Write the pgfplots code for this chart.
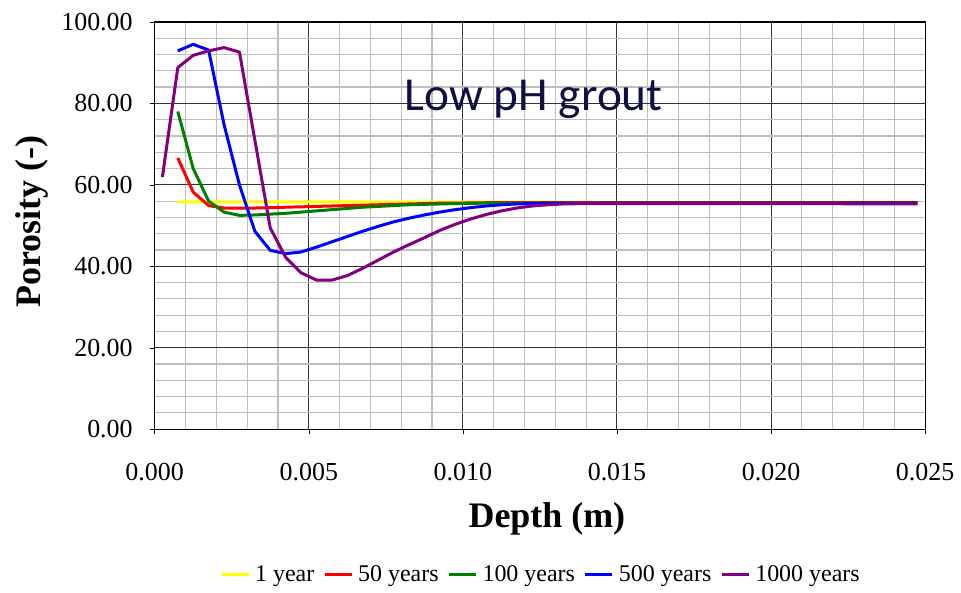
\documentclass[border=0pt]{standalone}
\usepackage{pgfplots}
\pgfplotsset{compat=1.18}
\usepackage{fontspec}
\setmainfont{Liberation Serif}
\newfontfamily\titlefont{Carlito}
\definecolor{cyel}{RGB}{255,255,0}
\definecolor{cred}{RGB}{255,0,0}
\definecolor{cgrn}{RGB}{0,128,0}
\definecolor{cblu}{RGB}{0,0,255}
\definecolor{cpur}{RGB}{128,0,128}
\definecolor{ctitle}{RGB}{16,16,70}
\begin{document}
\begin{tikzpicture}
\begin{axis}[
  scale only axis, width=386pt, height=204pt,
  xmin=0, xmax=0.025, ymin=0, ymax=100,
  xtick={0,0.005,...,0.025}, ytick={0,20,...,100},
  minor x tick num=4, minor y tick num=4,
  grid=both,
  major grid style={black!80, line width=0.5pt},
  minor grid style={black!25, line width=0.6pt},
  axis line style={black, line width=0.6pt},
  xtick pos=bottom, ytick pos=left,
  tick align=outside, major tick length=2.5pt, minor tick length=0pt,
  tick style={black},
  scaled x ticks=false, scaled y ticks=false,
  /pgf/number format/assume math mode=true,
  xticklabel={\pgfmathprintnumber[fixed,fixed zerofill,precision=3]{\tick}},
  yticklabel={\pgfmathprintnumber[fixed,fixed zerofill,precision=2]{\tick}},
  tick label style={font=\fontsize{13pt}{15pt}\selectfont},
  xticklabel style={yshift=-11pt},
  yticklabel style={xshift=-5pt},
  xlabel={\textbf{Depth (m)}}, ylabel={\textbf{Porosity (-)}},
  label style={font=\fontsize{18pt}{21pt}\selectfont},
  xlabel style={at={(axis description cs:0.5,0)}, anchor=center, yshift=-45pt, xshift=3.5pt},
  ylabel style={at={(axis description cs:0,0.5)}, anchor=center, yshift=61.5pt, xshift=2pt},
  legend columns=5,
  legend style={draw=none, fill=none, at={(0.5,-0.358)}, anchor=center,
    font=\fontsize{12pt}{14pt}\selectfont, column sep=2.5pt,
    nodes={inner xsep=0pt},
    /tikz/every even column/.append style={column sep=4.5pt}},
  legend image code/.code={\draw[#1] (0pt,0pt) -- (13.5pt,0pt);},
  every axis plot/.append style={line width=1.5pt, line join=round},
]
\coordinate (sw) at (rel axis cs:0,0);
\addplot[cyel] coordinates {(0.00075,55.8) (0.005,55.8) (0.010,55.75) (0.015,55.7) (0.020,55.7) (0.02475,55.75)};
\addlegendentry{1 year}
\addplot[cred] coordinates {(0.00075,66.6) (0.00125,58.2) (0.00175,54.9) (0.00225,54.3) (0.00275,54.3) (0.00325,54.3) (0.00375,54.4) (0.00425,54.5) (0.00475,54.6) (0.00525,54.7) (0.00575,54.8) (0.00625,54.9) (0.00675,55.0) (0.00725,55.1) (0.00775,55.2) (0.00825,55.3) (0.00875,55.4) (0.00925,55.5) (0.00975,55.5) (0.01075,55.6) (0.015,55.6) (0.020,55.6) (0.02475,55.6)};
\addlegendentry{50 years}
\addplot[cgrn] coordinates {(0.00075,78.0) (0.00125,64.0) (0.00175,56.0) (0.00225,53.3) (0.00275,52.5) (0.00325,52.6) (0.00375,52.8) (0.00425,53.0) (0.00475,53.3) (0.00525,53.6) (0.00575,53.9) (0.00625,54.2) (0.00675,54.5) (0.00725,54.7) (0.00775,54.9) (0.00825,55.1) (0.00875,55.2) (0.00925,55.3) (0.00975,55.4) (0.01075,55.5) (0.015,55.5) (0.020,55.5) (0.02475,55.5)};
\addlegendentry{100 years}
\addplot[cblu] coordinates {(0.00075,92.9) (0.00125,94.5) (0.00175,93.1) (0.00225,74.8) (0.00275,60.0) (0.00325,48.6) (0.00375,43.9) (0.00425,43.1) (0.00475,43.5) (0.00525,44.7) (0.00575,46.0) (0.00625,47.3) (0.00675,48.6) (0.00725,49.8) (0.00775,50.9) (0.00825,51.8) (0.00875,52.6) (0.00925,53.3) (0.00975,53.9) (0.01025,54.4) (0.01075,54.8) (0.01125,55.1) (0.01175,55.3) (0.01225,55.4) (0.015,55.5) (0.020,55.5) (0.02475,55.5)};
\addlegendentry{500 years}
\addplot[cpur] coordinates {(0.00025,61.9) (0.00075,88.8) (0.00125,91.8) (0.00175,92.9) (0.00225,93.7) (0.00275,92.6) (0.00325,71.0) (0.00375,49.4) (0.00425,42.2) (0.00475,38.4) (0.00525,36.6) (0.00575,36.6) (0.00625,37.7) (0.00675,39.5) (0.00725,41.5) (0.00775,43.5) (0.00825,45.3) (0.00875,47.0) (0.00925,48.8) (0.00975,50.3) (0.01025,51.6) (0.01075,52.7) (0.01125,53.6) (0.01175,54.3) (0.01225,54.8) (0.01275,55.1) (0.01325,55.3) (0.014,55.4) (0.015,55.4) (0.020,55.4) (0.02475,55.3)};
\addlegendentry{1000 years}
\node[font=\titlefont\fontsize{23.7pt}{28pt}\selectfont, text=ctitle] at (axis cs:0.0123,80.9) {Low pH grout};
\end{axis}
\path (sw) ++(-77.5pt,-81pt) rectangle ++(480.5pt,296pt);
\end{tikzpicture}
\end{document}
